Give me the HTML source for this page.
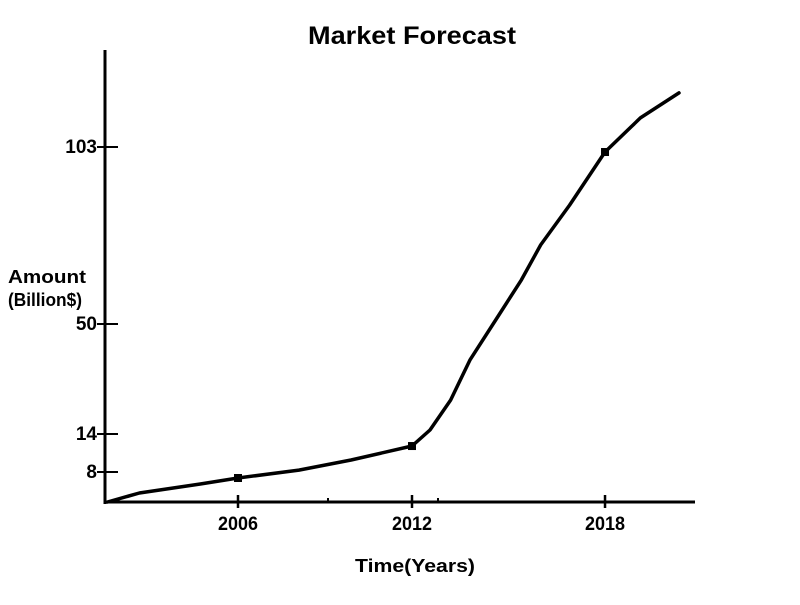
<!DOCTYPE html>
<html><head><meta charset="utf-8"><style>
body{margin:0;background:#fff;}
svg text{font-family:"Liberation Sans",Arial,sans-serif;font-weight:bold;fill:#000;}
</style></head><body>
<svg width="800" height="600" viewBox="0 0 800 600">
<text x="412" y="44" font-size="25" text-anchor="middle" textLength="208" lengthAdjust="spacingAndGlyphs">Market Forecast</text>
<text x="8" y="283" font-size="18" textLength="78" lengthAdjust="spacingAndGlyphs">Amount</text>
<text x="8" y="306" font-size="18" textLength="74" lengthAdjust="spacingAndGlyphs">(Billion$)</text>
<text x="415" y="572" font-size="18" text-anchor="middle" textLength="120" lengthAdjust="spacingAndGlyphs">Time(Years)</text>
<line x1="105" y1="50" x2="105" y2="504" stroke="#000" stroke-width="3"/>
<line x1="104" y1="502" x2="695" y2="502" stroke="#000" stroke-width="3"/>
<line x1="328" y1="498" x2="328" y2="502" stroke="#000" stroke-width="2"/>
<line x1="438" y1="498" x2="438" y2="502" stroke="#000" stroke-width="2"/>
<g id="ticks"></g>
<path id="line" fill="none" stroke="#000" stroke-width="3.5" stroke-linejoin="round" stroke-linecap="round"/>
<g id="markers"></g>
</svg>
<script>
const years=[2001.5,2002.6,2004.7,2006,2008.1,2009.9,2012,2012.56,2013.2,2013.8,2014.7,2015.4,2016.0,2016.9,2018,2019.1,2020.3];
const amounts=[0,2.4,4.8,6.4,8.3,9.9,12.1,15.3,25.1,38.2,52.7,63.2,73.7,85.6,101.5,111.7,119.2];
const xTicks=[2006,2012,2018];
const yTicks=[8,14,50,103];
const markerYears=[2006,2012,2018];
const markerAmounts=[6.4,12.1,101.5];
const NS="http://www.w3.org/2000/svg";
function xs(y){return y<2012?238+(y-2006)*29:412+(y-2012)*32.17;}
const yk=[0,8,14,50,103],yp=[502,472,434,324,147];
function ys(v){for(let i=0;i<yk.length-1;i++){if(v<=yk[i+1]||i===yk.length-2){return yp[i]+(v-yk[i])*(yp[i+1]-yp[i])/(yk[i+1]-yk[i]);}}}
let d="";years.forEach((y,i)=>{d+=(i?"L":"M")+xs(y).toFixed(1)+","+ys(amounts[i]).toFixed(1);});
document.getElementById("line").setAttribute("d",d);
const t=document.getElementById("ticks");
xTicks.forEach(v=>{const l=document.createElementNS(NS,"line");l.setAttribute("x1",xs(v));l.setAttribute("x2",xs(v));l.setAttribute("y1",495);l.setAttribute("y2",508);l.setAttribute("stroke","#000");l.setAttribute("stroke-width","2.5");


t.appendChild(l);
const tx=document.createElementNS(NS,"text");tx.setAttribute("x",xs(v));tx.setAttribute("y",530);tx.setAttribute("font-size","19");tx.setAttribute("text-anchor","middle");tx.setAttribute("textLength","40");tx.setAttribute("lengthAdjust","spacingAndGlyphs");tx.textContent=v;


t.appendChild(tx);});
yTicks.forEach(v=>{const l=document.createElementNS(NS,"line");l.setAttribute("x1",97);l.setAttribute("x2",118);l.setAttribute("y1",ys(v));l.setAttribute("y2",ys(v));l.setAttribute("stroke","#000");l.setAttribute("stroke-width","2");


t.appendChild(l);
const tx=document.createElementNS(NS,"text");tx.setAttribute("x",97);tx.setAttribute("y",ys(v)+6);tx.setAttribute("font-size","19");tx.setAttribute("text-anchor","end");tx.textContent=v;


t.appendChild(tx);});
const m=document.getElementById("markers");
markerYears.forEach((y,i)=>{const r=document.createElementNS(NS,"rect");r.setAttribute("x",xs(y)-4);r.setAttribute("y",ys(markerAmounts[i])-4);r.setAttribute("width",8);r.setAttribute("height",8);r.setAttribute("fill","#000");


m.appendChild(r);});
</script>
</body></html>
